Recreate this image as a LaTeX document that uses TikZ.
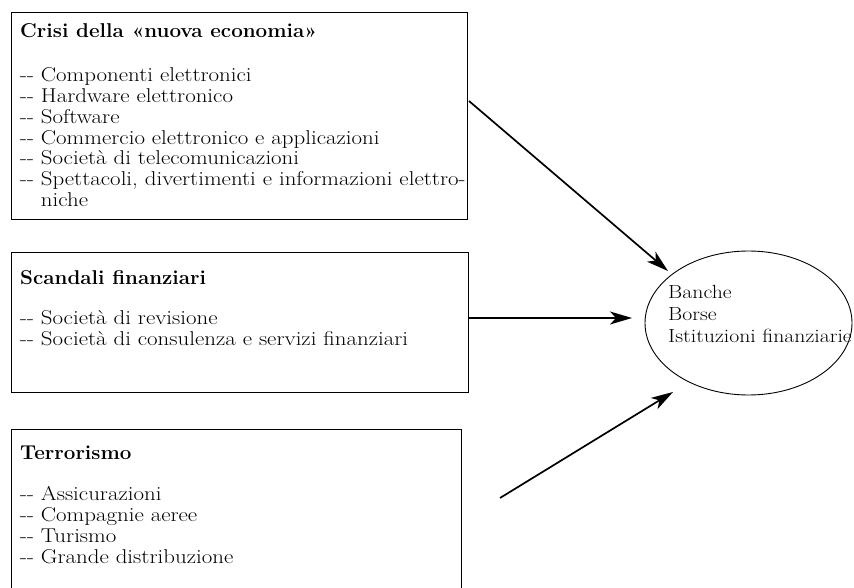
\documentclass[tikz,border=0pt]{standalone}
\usepackage{fontspec}
\setmainfont{Latin Modern Roman}[FakeStretch=1.145, BoldFeatures={FakeStretch=1.03}]
\usetikzlibrary{arrows.meta,shapes.geometric}
\newcommand{\dd}{-{}-\ }
\begin{document}
\begin{tikzpicture}[x=1pt,y=-1pt,
  box/.style={draw, line width=0.9pt, inner sep=0pt, anchor=north west},
  arr/.style={-{Stealth[length=22pt,width=13pt,inset=6pt]}, line width=1.7pt},
  txt/.style={anchor=base west, inner sep=0pt, font=\fontsize{20}{20.8}\selectfont}]
\useasboundingbox (0,0) rectangle (854,588);
\clip (0,0) rectangle (854,588);
% boxes
\node[box, minimum width=456pt, minimum height=207pt] (b1) at (11,12) {};
\node[box, minimum width=457pt, minimum height=140pt] (b2) at (11,252) {};
\node[box, minimum width=450pt, minimum height=180pt] (b3) at (11,429) {};
% ellipse
\node[draw, ellipse, line width=0.9pt, minimum width=207pt, minimum height=144pt, inner sep=0pt] (e) at (748.5,323) {};
% texts
\node[txt] (t1) at (20,38) {\parbox[t]{520pt}{\raggedright
  \textbf{Crisi della «nuova economia»}\par\vspace{23pt}
  \dd Componenti elettronici\par
  \dd Hardware elettronico\par
  \dd Software\par
  \dd Commercio elettronico e applicazioni\par
  \dd Società di telecomunicazioni\par
  \dd Spettacoli, divertimenti e informazioni elettro-\par
  \hphantom{\dd}niche}};
\node[txt] (t2) at (20,284) {\parbox[t]{520pt}{\raggedright
  \textbf{Scandali finanziari}\par\vspace{20pt}
  \dd Società di revisione\par
  \dd Società di consulenza e servizi finanziari}};
\node[txt] (t3) at (20,459) {\parbox[t]{520pt}{\raggedright
  \textbf{Terrorismo}\par\vspace{21pt}
  \dd Assicurazioni\par
  \dd Compagnie aeree\par
  \dd Turismo\par
  \dd Grande distribuzione}};
\node[txt, font=\fontsize{19}{22}\selectfont] (te) at (668,298) {\parbox[t]{200pt}{\raggedright
  Banche\par Borse\par Istituzioni finanziarie}};
% arrow end points
\coordinate (s1) at (469,101);
\coordinate (e1) at (668,271);
\coordinate (e2) at (632,318);
\coordinate (s3) at (500,498);
\coordinate (e3) at (673,392);
\draw[arr] (s1) -- (e1);
\draw[arr] (b2.east |- e2) -- (e2);
\draw[arr] (s3) -- (e3);
\end{tikzpicture}
\end{document}
